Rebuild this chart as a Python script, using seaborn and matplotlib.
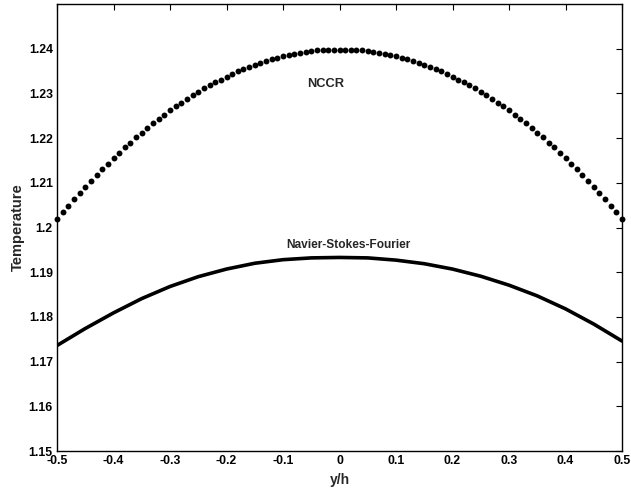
import numpy as np
import pandas as pd
import matplotlib
matplotlib.use("Agg")
import matplotlib.pyplot as plt
import seaborn as sns

# Channel coordinate y/h, sampled every 0.01 for the NCCR solution
y_over_h_nccr = np.round(np.linspace(-0.5, 0.5, 101), 2)
# NCCR temperature profile (left half to centre, then mirrored right half)
temp_nccr_left = [
    1.2019, 1.2034, 1.2049, 1.2063, 1.2077, 1.2091, 1.2104, 1.2118, 1.2131, 1.2143,
    1.2155, 1.2167, 1.2179, 1.2190, 1.2202, 1.2212, 1.2223, 1.2233, 1.2243, 1.2252,
    1.2262, 1.2271, 1.2279, 1.2287, 1.2296, 1.2303, 1.2311, 1.2318, 1.2325, 1.2331,
    1.2337, 1.2343, 1.2349, 1.2354, 1.2359, 1.2364, 1.2368, 1.2372, 1.2376, 1.2380,
    1.2383, 1.2386, 1.2388, 1.2391, 1.2393, 1.2394, 1.2396, 1.2397, 1.2397, 1.2398,
]
temp_nccr_centre = [1.2398]
temp_nccr = temp_nccr_left + temp_nccr_centre + temp_nccr_left[::-1]

# Navier-Stokes-Fourier temperature profile
y_over_h_nsf = [-0.50, -0.45, -0.40, -0.35, -0.30, -0.25, -0.20, -0.15, -0.10, -0.05,
                0.00, 0.05, 0.10, 0.15, 0.20, 0.25, 0.30, 0.35, 0.40, 0.45, 0.50]
temp_nsf = [1.1736, 1.1774, 1.1809, 1.1841, 1.1868, 1.1890, 1.1907, 1.1920, 1.1928, 1.1932,
            1.1933, 1.1932, 1.1927, 1.1919, 1.1907, 1.1891, 1.1871, 1.1847, 1.1818, 1.1784,
            1.1746]

x_ticks = [-0.5, -0.4, -0.3, -0.2, -0.1, 0, 0.1, 0.2, 0.3, 0.4, 0.5]
x_tick_labels = ["-0.5", "-0.4", "-0.3", "-0.2", "-0.1", "0", "0.1", "0.2", "0.3", "0.4", "0.5"]
y_ticks = [1.15, 1.16, 1.17, 1.18, 1.19, 1.20, 1.21, 1.22, 1.23, 1.24]
y_tick_labels = ["1.15", "1.16", "1.17", "1.18", "1.19", "1.2", "1.21", "1.22", "1.23", "1.24"]

sns.set_style("white")
plt.rcParams["font.family"] = ["Liberation Sans", "DejaVu Sans"]
plt.rcParams["font.weight"] = "bold"

df_nccr = pd.DataFrame({"y/h": y_over_h_nccr, "T": temp_nccr})
df_nsf = pd.DataFrame({"y/h": y_over_h_nsf, "T": temp_nsf})

fig = plt.figure(figsize=(6.31, 4.88), dpi=100)
ax = fig.add_axes([57 / 631, 1 - 451 / 488, (622 - 57) / 631, (451 - 4) / 488])

sns.lineplot(data=df_nsf, x="y/h", y="T", ax=ax, color="black", linewidth=2.6,
             sort=False, zorder=3)
sns.scatterplot(data=df_nccr, x="y/h", y="T", ax=ax, color="black", s=18,
                linewidth=0, zorder=4, clip_on=False)

ax.set_xlim(-0.5, 0.5)
ax.set_ylim(1.15, 1.25)
ax.set_xticks(x_ticks)
ax.set_xticklabels(x_tick_labels)
ax.set_yticks(y_ticks)
ax.set_yticklabels(y_tick_labels)

ax.tick_params(direction="in", length=4, width=0.8, top=True, right=True,
               labelsize=8.8, colors="black")
ax.tick_params(axis="x", pad=3)
ax.tick_params(axis="y", pad=3)
for lbl in ax.get_xticklabels() + ax.get_yticklabels():
    lbl.set_fontweight("bold")
for sp in ax.spines.values():
    sp.set_visible(True)
    sp.set_color("black")
    sp.set_linewidth(1.0)

ax.set_xlabel("y/h", fontsize=10, fontweight="bold", labelpad=4)
ax.set_ylabel("Temperature", fontsize=10.5, fontweight="bold", labelpad=3)

ax.text(-0.025, 1.2322, "NCCR", ha="center", va="center", fontsize=9.3, fontweight="bold")
ax.text(0.015, 1.1960, "Navier-Stokes-Fourier", ha="center", va="center",
        fontsize=8.6, fontweight="bold")

fig.savefig("out.png", dpi=100, facecolor="white")
